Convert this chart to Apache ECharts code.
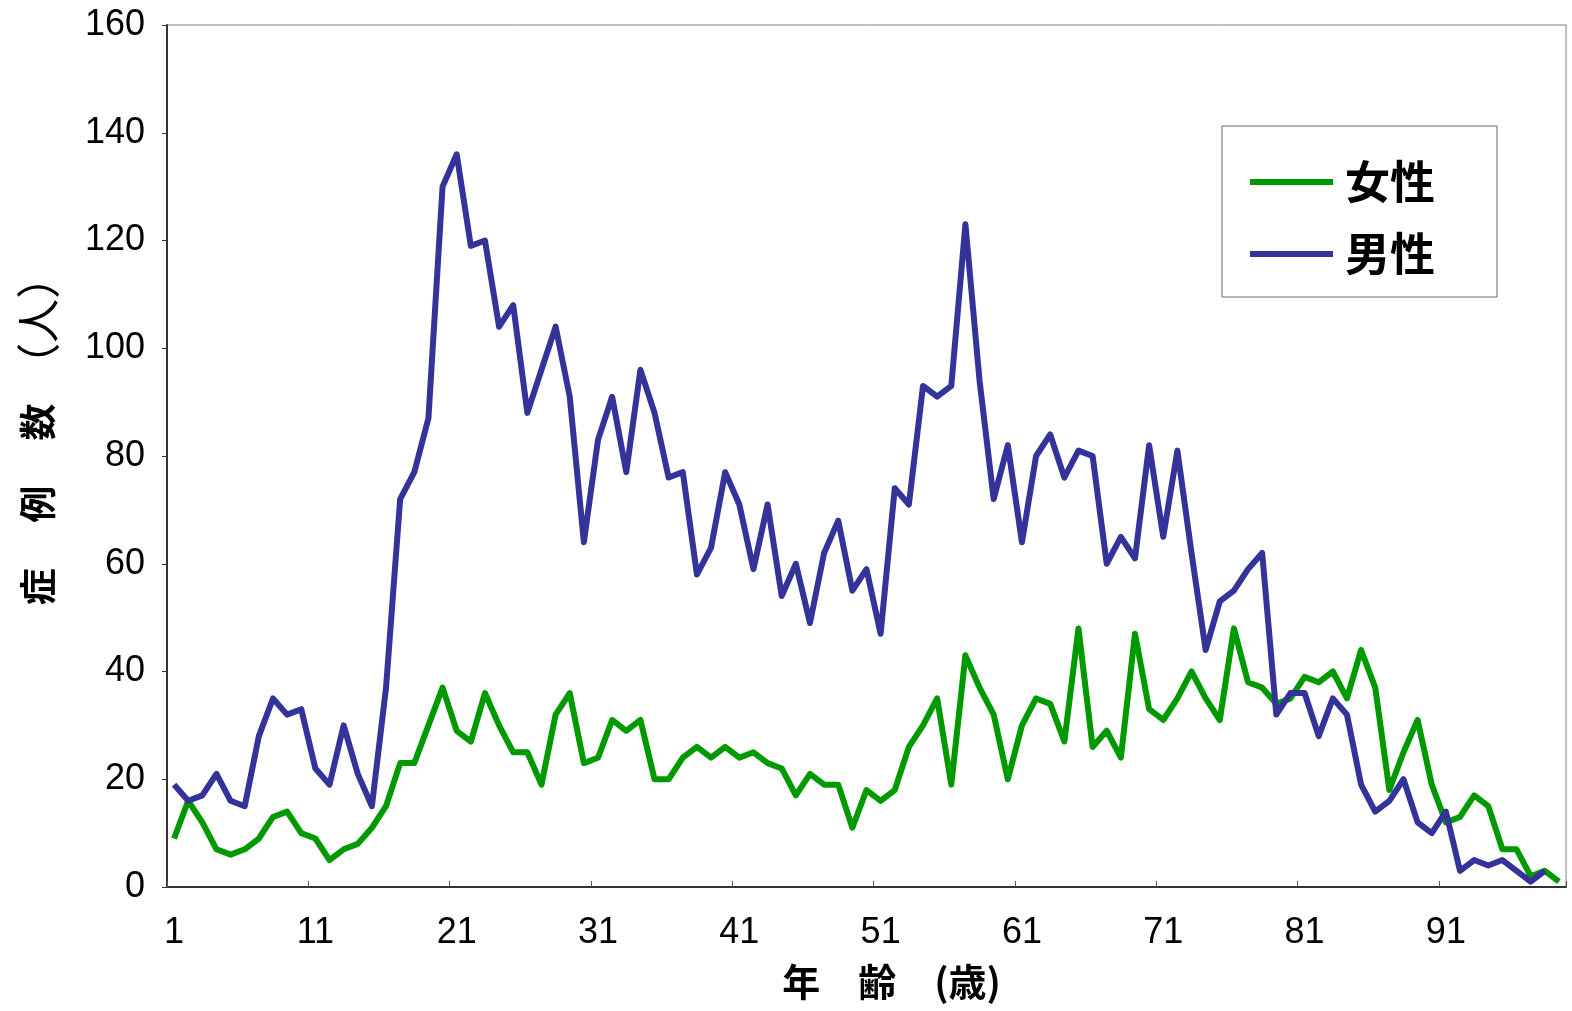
<!DOCTYPE html>
<html>
<head>
<meta charset="utf-8">
<script src="https://cdn.jsdelivr.net/npm/echarts@6/dist/echarts.min.js"></script>
<style>html,body{margin:0;padding:0;background:#fff;}#c{width:1572px;height:1011px;}</style>
</head>
<body>
<div id="c"></div>
<script>
// Ages 1..99
const ages = [];
for (let a = 1; a <= 99; a++) ages.push(String(a));

const seriesNames = ['女性', '男性'];

const female = [
  9, 16, 12, 7, 6, 7, 9, 13, 14, 10,
  9, 5, 7, 8, 11, 15, 23, 23, 30, 37,
  29, 27, 36, 30, 25, 25, 19, 32, 36, 23,
  24, 31, 29, 31, 20, 20, 24, 26, 24, 26,
  24, 25, 23, 22, 17, 21, 19, 19, 11, 18,
  16, 18, 26, 30, 35, 19, 43, 37, 32, 20,
  30, 35, 34, 27, 48, 26, 29, 24, 47, 33,
  31, 35, 40, 35, 31, 48, 38, 37, 34, 35,
  39, 38, 40, 35, 44, 37, 18, 25, 31, 19,
  12, 13, 17, 15, 7, 7, 2, 3, 1
];

const male = [
  19, 16, 17, 21, 16, 15, 28, 35, 32, 33,
  22, 19, 30, 21, 15, 37, 72, 77, 87, 130,
  136, 119, 120, 104, 108, 88, 96, 104, 91, 64,
  83, 91, 77, 96, 88, 76, 77, 58, 63, 77,
  71, 59, 71, 54, 60, 49, 62, 68, 55, 59,
  47, 74, 71, 93, 91, 93, 123, 94, 72, 82,
  64, 80, 84, 76, 81, 80, 60, 65, 61, 82,
  65, 81, 62, 44, 53, 55, 59, 62, 32, 36,
  36, 28, 35, 32, 19, 14, 16, 20, 12, 10,
  14, 3, 5, 4, 5, 3, 1, 3
];

const yTicks = [0, 20, 40, 60, 80, 100, 120, 140, 160];

const chart = echarts.init(document.getElementById('c'), null, {renderer: 'canvas'});
chart.setOption({
  backgroundColor: '#ffffff',
  animation: false,
  color: ['#009900', '#333399'],
  grid: {
    left: 167, right: 6, top: 25, bottom: 124,
    show: true, borderColor: '#808080', borderWidth: 1, backgroundColor: 'transparent'
  },
  legend: {
    data: seriesNames,
    orient: 'vertical',
    left: 1222, top: 126,
    padding: [33, 62, 20, 28],
    itemGap: 26,
    itemWidth: 83, itemHeight: 6,
    icon: 'rect',
    borderColor: '#666666', borderWidth: 1,
    backgroundColor: '#ffffff',
    textStyle: {
      fontFamily: 'Noto Sans CJK JP', fontSize: 45, fontWeight: 'bold', color: '#000',
      lineHeight: 46, padding: [0, 0, 0, 7]
    }
  },
  xAxis: {
    type: 'category',
    data: ages,
    boundaryGap: true,
    name: '年　齢　(歳)',
    nameLocation: 'middle',
    nameGap: 76,
    nameTextStyle: {
      fontFamily: 'Noto Sans CJK JP', fontSize: 38, fontWeight: 'bold', color: '#000',
      padding: [0, 0, 0, 50]
    },
    axisLine: {lineStyle: {color: '#333', width: 2}},
    axisTick: {show: true, inside: true, length: 6, interval: 9, lineStyle: {color: '#555'}},
    axisLabel: {
      interval: 9, margin: 28,
      fontFamily: 'Liberation Sans', fontSize: 36, color: '#000'
    },
    splitLine: {show: false}
  },
  yAxis: {
    type: 'value',
    min: yTicks[0], max: yTicks[yTicks.length - 1], interval: 20,
    name: '{b|症　 例　 数}{s|  }{n|（人）}',
    nameLocation: 'middle',
    nameRotate: 90,
    nameGap: 107,
    nameTextStyle: {
      padding: [0, 0, 0, 52],
      rich: {
        b: {fontFamily: 'Noto Sans CJK JP', fontSize: 37, fontWeight: 'bold', color: '#000'},
        s: {fontFamily: 'Noto Sans CJK JP', fontSize: 37, color: '#000'},
        n: {fontFamily: 'Noto Sans CJK JP', fontSize: 44, fontWeight: 'normal', color: '#000'}
      }
    },
    axisLine: {show: true, lineStyle: {color: '#333', width: 2}},
    axisTick: {show: true, length: 5, lineStyle: {color: '#333'}},
    axisLabel: {margin: 22, fontFamily: 'Liberation Sans', fontSize: 36, color: '#000'},
    splitLine: {show: false}
  },
  series: [
    {
      name: seriesNames[0], type: 'line', data: female,
      symbol: 'none', lineStyle: {width: 6, color: '#009900', join: 'round'}
    },
    {
      name: seriesNames[1], type: 'line', data: male,
      symbol: 'none', lineStyle: {width: 6, color: '#333399', join: 'round'}
    }
  ]
});
</script>
</body>
</html>
